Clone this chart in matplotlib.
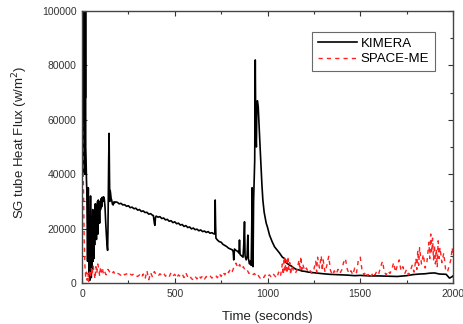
import matplotlib
matplotlib.use("Agg")
import matplotlib.pyplot as plt
from matplotlib.ticker import MultipleLocator

plt.rcParams['font.family'] = ['Liberation Sans', 'DejaVu Sans']

# KIMERA (black solid)
kimera_t = [0, 1, 2, 3, 4, 5, 6, 7, 8, 9, 10, 11, 12, 13, 14, 15, 16, 17, 18, 19, 20,
            22, 24, 26, 28, 30, 32, 34, 36, 38, 40, 42, 44, 46, 48, 50, 52, 54, 56, 58,
            60, 62, 64, 66, 68, 70, 72, 74, 76, 78, 80, 82, 84, 86, 88, 90, 92, 95, 98,
            100, 103, 106, 109, 112, 116, 120, 124, 128, 132, 135, 138, 140, 142, 144,
            146, 148, 150, 152, 154, 157, 160, 164, 168, 172, 176, 180,
            190, 200, 210, 220, 230, 240, 250, 260, 270, 280, 290, 300, 310, 320, 330,
            340, 350, 360, 370, 380, 385, 390, 393, 396, 400, 410, 420, 430, 440, 450,
            460, 470, 480, 490, 500, 510, 520, 530, 540, 550, 560, 570, 580, 590, 600,
            610, 620, 630, 640, 650, 660, 670, 680, 690, 700, 710, 716, 718, 720, 722,
            730, 740, 750, 760, 770, 780, 790, 800, 810, 815, 818, 822, 830, 840, 846,
            849, 852, 860, 868, 872, 876, 879, 885, 890, 894, 897, 903, 908, 912, 915,
            917, 919, 922, 925, 928, 931, 934, 937, 940, 943, 946, 950, 955, 960, 966,
            970, 975, 982, 993, 1000, 1011, 1025, 1038, 1050, 1065, 1080, 1092, 1100,
            1110, 1120, 1130, 1140, 1155, 1170, 1185, 1200, 1220, 1245, 1270, 1300,
            1334, 1370, 1400, 1430, 1470, 1500, 1550, 1600, 1650, 1700, 1750, 1786,
            1820, 1850, 1873, 1900, 1927, 1963, 1981, 1995, 2000]
kimera_v = [0, 150000, 60000, 150000, 40000, 150000, 70000, 150000, 50000, 150000, 65000,
            150000, 45000, 150000, 70000, 150000, 40000, 140000, 68000, 120000, 50000,
            45000, 38000, 34000, 20000, 8000, 25000, 35000, 15000, 3000, 20000, 1000,
            15000, 32000, 10000, 2000, 18000, 5000, 22000, 27000, 8000, 20000, 9000,
            25000, 14000, 29000, 17000, 29000, 20000, 16000, 26000, 22000, 30000, 18000,
            30500, 24000, 29000, 22000, 30000, 27000, 31000, 28000, 31500, 30000, 31700,
            31000, 28000, 22000, 17000, 14000, 12000, 20000, 35000, 46000, 55000, 40000,
            30000, 34000, 33000, 31000, 30500, 29000, 28700, 29800, 29500, 29800,
            29700, 29100, 29300, 28700, 28800, 28200, 28400, 27700, 27900, 27300, 27500,
            26800, 27000, 26300, 26500, 25900, 26000, 25300, 25500, 24900, 24800, 22000,
            21200, 24000, 24600, 24200, 24400, 23700, 23900, 23200, 23400, 22700, 22900,
            22200, 22500, 21800, 22000, 21300, 21500, 20800, 21100, 20400, 20600, 19900,
            20200, 19600, 19800, 19200, 19500, 18900, 19100, 18600, 18900, 18300, 18500,
            18100, 18000, 30500, 22000, 16500, 15800, 15200, 15000, 14200, 13800, 13400,
            12800, 12500, 12200, 11500, 8500, 12500, 12000, 11600, 11000, 15800, 10500,
            10000, 9500, 14000, 22500, 10000, 8500, 9800, 17600, 9000, 7000, 8000, 6500,
            20000, 35000, 10000, 6000, 30000, 38000, 45000, 82000, 55000, 50000, 66700,
            67000, 64800, 57000, 50000, 41500, 36000, 30500, 26000, 22000, 20500, 17600,
            15200, 13300, 12300, 11000, 9500, 9000, 7500, 7000, 6500, 6200, 5600, 5000,
            4800, 4400, 4300, 4000, 3800, 3600, 3400, 3200, 3100, 3000, 2900, 2700, 2800,
            2600, 2600, 2500, 2400, 2700, 3100, 3300, 3400, 3600, 3700, 3300, 3200, 1800,
            2300, 2600]

# SPACE-ME (red dashed)
space_t = [0, 4, 8, 12, 16, 20, 24, 28, 32, 36, 40, 45, 50, 55, 60, 65, 70, 75, 80, 85,
           90, 95, 100, 105, 110, 115, 120, 130, 140, 150, 160, 170, 180, 190,
           200, 210, 220, 230, 240, 250, 260, 270, 280, 290, 300, 310, 320, 330, 340,
           350, 360, 370, 380, 390, 400, 410, 420, 430, 440, 450, 460, 470, 480, 490,
           500, 510, 520, 530, 540, 550, 560, 570, 580, 590, 600, 610, 620, 630, 640,
           650, 660, 670, 680, 690, 700, 710, 720, 730, 740, 750, 760, 770, 780, 790,
           800, 810, 820, 830, 840, 850, 860, 870, 880, 890, 900, 910, 920, 930, 940,
           950, 960, 970, 980, 990, 1000, 1010, 1020, 1030, 1040, 1050, 1060, 1070,
           1080, 1085, 1090, 1095, 1100, 1105, 1110, 1115, 1120, 1125, 1130, 1140, 1150,
           1160, 1170, 1175, 1180, 1185, 1190, 1200, 1210, 1220, 1230, 1240, 1250, 1260,
           1265, 1270, 1280, 1290, 1295, 1300, 1310, 1320, 1330, 1340, 1350, 1360, 1370,
           1380, 1390, 1400, 1410, 1420, 1430, 1440, 1450, 1460, 1470, 1480, 1490, 1500,
           1510, 1520, 1530, 1540, 1550, 1560, 1570, 1580, 1590, 1600, 1610, 1620, 1630,
           1640, 1650, 1660, 1670, 1680, 1690, 1700, 1710, 1720, 1730, 1740, 1750, 1760,
           1770, 1780, 1790, 1800, 1805, 1810, 1815, 1820, 1830, 1840, 1850, 1860, 1870,
           1875, 1880, 1885, 1890, 1895, 1900, 1905, 1910, 1915, 1920, 1925, 1930, 1940,
           1950, 1960, 1970, 1980, 1990, 1995, 2000]
space_v = [62000, 55000, 35000, 15000, 6000, 2000, 4000, 1000, 3500, 500, 4000, 2000,
           5500, 3000, 6500, 4000, 1500, 6000, 3500, 7000, 5500, 2500, 6000, 4000, 5500,
           3500, 4500, 3000, 5000, 4000, 3200, 4200, 3000, 3600,
           3300, 2800, 3600, 3000, 3400, 2600, 3200, 2900, 3500, 2700, 2400, 3000, 2000,
           3300, 1500, 4500, 1200, 3800, 2200, 4200, 3000, 2500, 3400, 2800, 3600, 2500,
           3100, 2300, 3800, 2600, 3200, 1800, 3000, 2400, 3300, 2000, 3700, 2200, 2800,
           1600, 1200, 2400, 1500, 2800, 1800, 2600, 1400, 2400, 2000, 2700, 1800, 2400,
           2900, 1900, 3500, 2400, 4000, 3000, 4500, 3800, 5200, 4200, 6000, 7300, 5500,
           6800, 5200, 6000, 4500, 4800, 3500, 3800, 3000, 3500, 2200, 2800, 1800, 2600,
           2000, 3200, 2400, 3000, 2200, 3400, 2600, 1800, 4000, 2500,
           7000, 3000, 9500, 4000, 8500, 3500, 9800, 5000, 7500, 3000, 6500, 4500, 3500,
           5000, 8500, 4500, 9800, 5000, 7000, 4500, 5500, 3800, 4500, 3500, 5000, 8000,
           4000, 9500, 5500, 10000, 4500, 8500, 4000, 6500, 9800, 4500, 3000, 4500, 3200,
           5000, 3500, 4800, 7500, 9000, 5000, 3500, 4500, 3000, 5500, 3800, 8500, 9500,
           4500, 3000, 4200, 2600, 3800, 2500, 4000, 3000, 4500, 3500, 6000, 8000, 4000,
           3000, 4500, 3500, 5000, 7500, 4000, 6500, 8500, 4500, 6000, 3500, 5000, 3000,
           4500, 6500, 4000, 9000, 5000, 12000, 6500, 13000, 7000, 10500, 5500, 8000, 15000,
           9000, 18000, 11000, 16500, 8500, 14000, 7000, 12500, 6000, 15500, 9000, 13000,
           7500, 11000, 5000, 4000, 6500, 9000, 13000, 11000]

x_ticks = [0, 500, 1000, 1500, 2000]
y_ticks = [0, 20000, 40000, 60000, 80000, 100000]

fig = plt.figure(figsize=(4.63, 3.24), dpi=100)
ax = fig.add_axes([82/463, 1-283/324, 371/463, 272/324])

n_k = min(len(kimera_t), len(kimera_v))
n_s = min(len(space_t), len(space_v))
ax.plot(kimera_t[:n_k], kimera_v[:n_k], color='black', lw=1.2, label='KIMERA')
ax.plot(space_t[:n_s], space_v[:n_s], color='#ff2020', lw=1.0, linestyle=(0, (3, 3)),
        label='SPACE-ME')

ax.set_xlim(0, 2000)
ax.set_ylim(0, 100000)
ax.set_xticks(x_ticks)
ax.set_yticks(y_ticks)
ax.set_xticklabels([str(v) for v in x_ticks])
ax.set_yticklabels([str(v) for v in y_ticks])
ax.xaxis.set_minor_locator(MultipleLocator(250))
ax.yaxis.set_minor_locator(MultipleLocator(10000))
ax.tick_params(which='both', direction='in', top=True, right=True, labelsize=7.5,
               colors='#333333', width=0.8)
ax.tick_params(which='major', length=3.5, pad=4)
ax.tick_params(which='minor', length=2)
for s in ax.spines.values():
    s.set_color('#444444')
    s.set_linewidth(1.0)

ax.set_xlabel('Time (seconds)', fontsize=9.5, labelpad=9, color='#222222')
ax.set_ylabel('SG tube Heat Flux (w/m$^2$)', fontsize=9.5, color='#222222')
ax.yaxis.set_label_coords(30/463, 1 - 142/324, transform=fig.transFigure)

leg = ax.legend(loc='upper right',
                bbox_to_anchor=((435 - 82) / 371, 1 - (31.5 - 11) / 272),
                bbox_transform=ax.transAxes, fontsize=9.5, frameon=True, fancybox=False,
                edgecolor='#444444', handlelength=3.0, borderpad=0.45, labelspacing=0.25,
                handletextpad=0.25, borderaxespad=0)
leg.get_frame().set_linewidth(0.8)

fig.savefig('out.png', dpi=100)
